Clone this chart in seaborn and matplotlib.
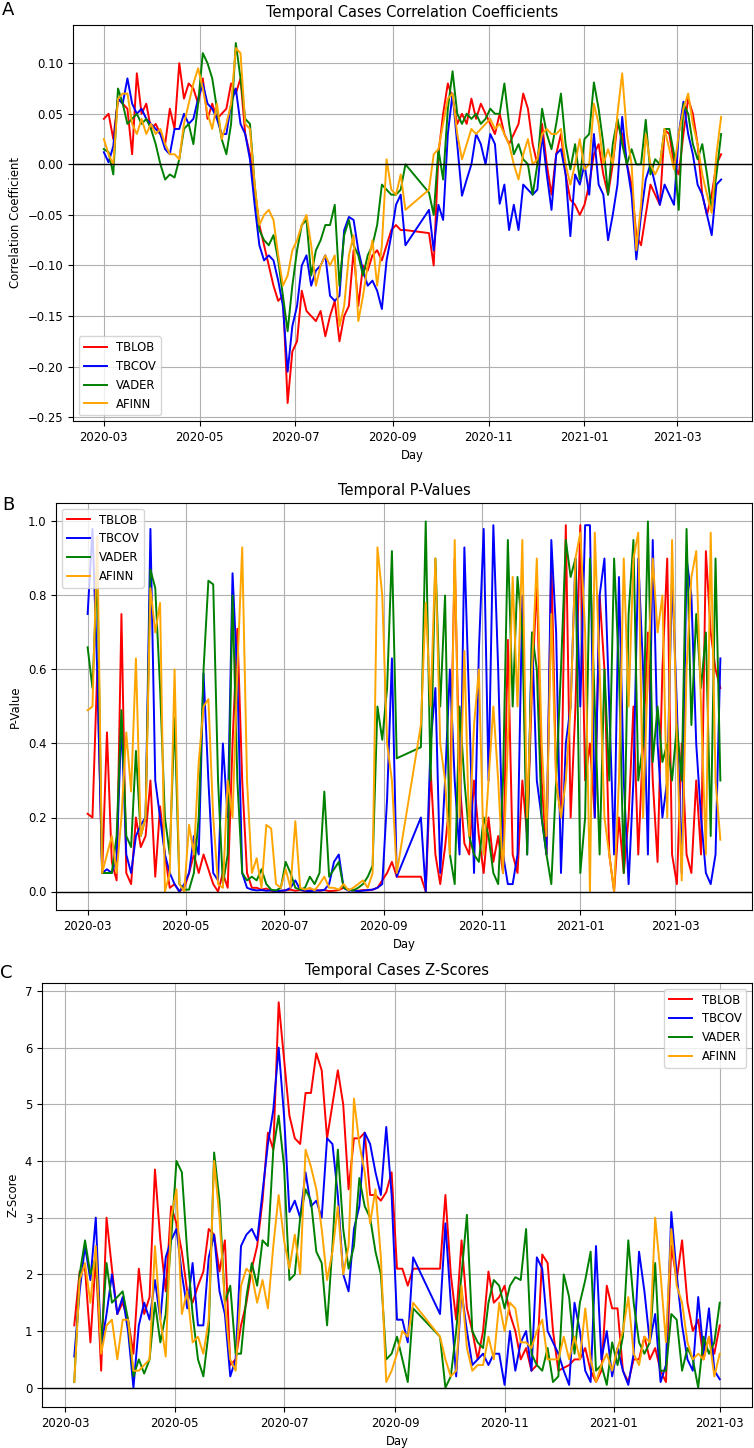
import pandas as pd
import seaborn as sns
import matplotlib.pyplot as plt
import matplotlib.dates as mdates

methods = ['TBLOB', 'TBCOV', 'VADER', 'AFINN']
line_colors = ['red', 'blue', 'green', 'orange']

# panels A and B: every 3rd day, 2020-03-01 .. 2021-03-29, no data 2020-09-12 .. 2020-09-21
days_ab = pd.date_range('2020-03-01', '2021-03-29', freq='3D')
days_ab = days_ab[(days_ab <= '2020-09-09') | (days_ab >= '2020-09-24')]
# panel C: every 3rd day, 2020-03-06 .. 2021-03-01, same hole in September
days_c = pd.date_range('2020-03-06', '2021-03-01', freq='3D')
days_c = days_c[(days_c <= '2020-09-11') | (days_c >= '2020-09-26')]

tblob_corr = [
    .045, .050, .025, .065, .060, .055, .010, .090, .050, .060, .035,
    .040, .030, .020, .055, .035, .100, .065, .080, .075, .060,
    .085, .045, .060, .045, .050, .055, .080, .070, .085, .030,
    .010, -.025, -.060, -.080, -.100, -.120, -.135, -.130, -.236, -.185,
    -.175, -.125, -.145, -.150, -.155, -.145, -.170, -.150, -.135, -.175,
    -.150, -.140, -.085, -.140, -.100, -.105, -.090, -.085, -.095, -.080, -.065,
    -.060, -.065, -.065, -.068, -.100, .010,
    .050, .080, .065, .040, .050, .040, .065, .045, .060, .050,
    .040, .030, .050, .030, .020, .030, .040, .070, .055, .020,
    .000, .040, .000, -.030, .010, .030, -.010, -.035, -.040, -.050,
    -.040, -.020, .010, .020, -.010, -.030, .000, .040, .030, .000, -.020,
    -.070, -.080, -.050, -.020, -.030, -.040, .034, .030, .000,
    -.010, .030, .065, .050, .020, -.030, -.050, -.030, .000, .010,
]
tbcov_corr = [
    .012, .002, .018, .065, .060, .085, .060, .050, .055, .045, .040,
    .035, .030, .015, .010, .035, .035, .050, .040, .045, .065,
    .080, .060, .055, .045, .030, .030, .060, .075, .040, .030,
    .005, -.040, -.080, -.095, -.090, -.095, -.115, -.140, -.205, -.160,
    -.140, -.100, -.090, -.120, -.105, -.100, -.090, -.130, -.135, -.130,
    -.065, -.052, -.055, -.085, -.105, -.120, -.115, -.125, -.143, -.095, -.070,
    -.040, -.030, -.080, -.045, -.085, -.040,
    -.055, .030, .070, .020, -.031, -.015, .000, .030, .020, .000,
    .030, .020, -.039, -.020, -.065, -.040, -.065, -.020, -.025, -.030,
    -.025, .030, -.010, -.045, .010, .015, -.010, -.071, -.010, -.020,
    .000, -.030, .030, -.020, -.030, -.075, -.050, -.020, .047, .000, -.030,
    -.094, -.050, -.015, .000, -.020, -.040, -.020, -.030, -.040,
    .030, .062, .030, .010, -.020, -.030, -.050, -.070, -.020, -.015,
]
vader_corr = [
    .015, .012, -.010, .075, .060, .040, .045, .050, .040, .045, .035,
    .020, .000, -.015, -.010, -.013, .005, .035, .040, .020, .060,
    .110, .100, .085, .055, .025, .010, .040, .120, .085, .045,
    .040, -.020, -.065, -.075, -.080, -.070, -.095, -.130, -.165, -.120,
    -.085, -.060, -.055, -.110, -.085, -.075, -.060, -.060, -.040, -.120,
    -.070, -.055, -.080, -.090, -.110, -.090, -.080, -.060, -.020, -.025, -.030,
    -.030, -.025, .000, -.028, -.050, .015,
    -.015, .055, .092, .050, .040, .050, .045, .050, .040, .045,
    .055, .050, .050, .080, .040, .010, .020, .005, .000, -.030,
    .000, .055, .030, .015, .040, .070, .020, -.005, .020, -.015,
    .025, .030, .081, .055, .020, -.030, .020, .045, .020, .000, .015,
    .000, .000, .044, -.010, .005, .000, .035, .035, .010,
    -.045, .060, .050, .020, .005, .020, -.010, -.045, -.010, .030,
]
afinn_corr = [
    .025, .010, .000, .065, .070, .070, .040, .030, .045, .030, .040,
    .030, .035, .020, .010, .010, .005, .040, .060, .080, .095,
    .075, .050, .035, .060, .025, .040, .060, .115, .110, .040,
    .035, -.020, -.060, -.050, -.045, -.055, -.090, -.120, -.110, -.085,
    -.075, -.060, -.050, -.080, -.120, -.100, -.090, -.100, -.090, -.160,
    -.140, -.090, -.070, -.155, -.130, -.100, -.075, -.120, -.080, .005, -.025,
    -.030, -.010, -.045, -.025, .010, .015,
    .040, .065, .070, .030, .005, .020, .035, .030, .035, .040,
    .045, .035, .040, .030, .020, .000, -.015, .010, .025, .000,
    .005, .030, .035, .030, .030, .035, .000, -.020, .000, .025,
    -.005, .000, .060, .040, .000, .015, .000, .050, .090, .030, .000,
    -.085, -.040, .030, .000, -.010, .000, .035, .015, -.005,
    .030, .055, .070, .040, .020, -.010, -.030, -.048, .010, .047,
]

tblob_p = [
    .21, .20, .60, .05, .43, .08, .03, .75, .05, .02, .20,
    .12, .15, .30, .04, .23, .10, .01, .02, .00, .01,
    .05, .10, .05, .10, .06, .02, .00, .05, .01, .40,
    .71, .30, .05, .01, .01, .005, .008, .002, .00, .002,
    .003, .005, .002, .004, .001, .003, .005, .002, .004, .001,
    .002, .004, .01, .005, .003, .002, .004, .003, .005, .010, .03,
    .05, .08, .04, .04, .00, .33,
    .10, .02, .12, .25, .90, .30, .13, .10, .30, .15,
    .05, .20, .08, .15, .05, .68, .10, .05, .30, .15,
    .55, .84, .30, .10, .90, .30, .20, .99, .20, .50,
    .99, .30, .40, .20, .80, .60, .10, .00, .20, .05, .20,
    .50, .10, .40, .70, .30, .08, .60, .90, .10,
    .02, .40, .10, .05, .30, .10, .92, .70, .60, .55,
]
tbcov_p = [
    .75, .98, .59, .05, .06, .05, .09, .46, .10, .05, .15,
    .18, .20, .98, .30, .20, .10, .05, .02, .00, .02,
    .05, .15, .10, .59, .30, .05, .03, .40, .20, .86,
    .58, .05, .01, .005, .003, .004, .002, .003, .001, .002,
    .003, .01, .03, .005, .002, .001, .002, .003, .004, .02,
    .08, .10, .01, .002, .003, .001, .002, .004, .005, .01, .02,
    .25, .63, .04, .20, .00, .40,
    .55, .05, .30, .60, .30, .10, .93, .50, .05, .65,
    .98, .30, .99, .60, .10, .02, .02, .10, .80, .10,
    .70, .30, .20, .10, .95, .70, .05, .40, .50, .90,
    .50, .99, .99, .20, .80, .90, .50, .10, .85, .30, .02,
    .30, .90, .60, .10, .95, .40, .20, .30, .85,
    .50, .05, .90, .80, .40, .20, .05, .02, .10, .63,
]
vader_p = [
    .66, .55, .87, .05, .05, .05, .15, .49, .15, .12, .38,
    .15, .20, .87, .82, .55, .20, .10, .47, .02, .005,
    .005, .05, .20, .60, .84, .83, .30, .02, .10, .80,
    .30, .05, .03, .04, .03, .06, .02, .005, .003, .01,
    .08, .05, .01, .005, .01, .04, .02, .05, .27, .04,
    .06, .08, .01, .005, .003, .01, .02, .04, .07, .50, .41,
    .55, .92, .36, .39, 1.00, .30,
    .90, .50, .80, .10, .02, .50, .30, .15, .10, .08,
    .20, .15, .05, .02, .30, .95, .50, .85, .70, .10,
    .70, .60, .20, .10, .02, .30, .60, .95, .85, .90,
    .05, .20, .90, .50, .10, .60, .30, .90, .60, .05, .75,
    .95, .30, .40, 1.00, .35, .50, .35, .40, .30,
    .45, .30, .98, .45, .75, .55, .70, .15, .90, .30,
]
afinn_p = [
    .49, .50, .96, .05, .10, .15, .05, .20, .43, .27, .63,
    .15, .20, .82, .70, .78, .00, .05, .60, .02, .00,
    .18, .10, .35, .50, .52, .20, .02, .01, .30, .20,
    .60, .93, .30, .05, .09, .01, .18, .17, .02, .01,
    .06, .01, .19, .01, .005, .01, .003, .02, .04, .01,
    .01, .005, .02, .003, .01, .02, .03, .01, .05, .93, .80,
    .40, .30, .05, .45, .78, .50,
    .90, .40, .30, .10, .95, .20, .65, .15, .45, .60,
    .10, .30, .50, .30, .05, .40, .85, .50, .95, .20,
    .60, .90, .40, .15, .75, .30, .20, .30, .50, .90,
    .97, .70, .00, .97, .60, .20, .10, .00, .30, .90, .50,
    .90, .97, .20, .60, .90, .70, .80, .20, .95,
    .40, .03, .60, .85, .92, .50, .10, .97, .30, .14,
]

tblob_z = [
    1.10, 2.05, 2.10, 0.80, 2.30, 0.30, 3.00, 2.10, 1.30, 1.50,
    1.20, 0.60, 2.10, 1.30, 1.60, 3.85, 2.60, 1.70, 3.20, 2.90,
    2.40, 1.70, 1.50, 1.80, 2.05, 2.80, 2.70, 2.05, 2.60, 0.40,
    0.50, 1.10, 1.50, 2.10, 2.50, 3.30, 4.50, 4.20, 6.80, 5.80,
    4.80, 4.40, 4.30, 5.20, 5.20, 5.90, 5.60, 4.40, 5.00, 5.60,
    5.00, 3.50, 4.40, 4.40, 4.50, 3.40, 3.40, 3.30, 3.45, 3.80,
    2.10, 2.10, 1.80, 2.10, 2.10, 3.40, 2.00, 1.20, 2.60, 1.40,
    1.00, 0.50, 1.00, 2.05, 1.50, 1.60, 1.80, 1.30, 1.00, 0.50,
    0.70, 0.30, 0.40, 2.35, 2.20, 1.00, 0.30, 0.35, 0.40, 0.50,
    0.50, 0.70, 0.30, 0.10, 0.30, 1.80, 1.40, 1.40, 0.30, 0.10,
    0.50, 0.50, 0.90, 0.50, 0.70, 0.30, 0.10, 2.50, 1.90, 2.60,
    1.50, 1.00, 1.20, 0.50, 0.90, 0.60, 1.10,
]
tbcov_z = [
    0.55, 1.70, 2.50, 1.90, 3.00, 0.70, 1.30, 2.00, 1.30, 1.60,
    1.00, 0.00, 1.10, 1.50, 1.20, 1.90, 1.20, 2.30, 2.60, 2.80,
    2.00, 1.40, 2.20, 1.10, 1.10, 2.30, 2.70, 1.70, 1.30, 0.20,
    0.50, 2.50, 2.70, 2.80, 2.60, 3.45, 4.30, 4.90, 6.00, 4.80,
    3.10, 3.30, 3.00, 3.80, 3.20, 3.30, 3.00, 4.40, 4.30, 3.40,
    2.00, 1.70, 2.80, 3.20, 4.50, 4.30, 3.80, 3.40, 4.60, 3.40,
    1.20, 1.20, 0.80, 2.30, 1.30, 2.90, 1.50, 0.20, 1.70, 1.00,
    0.40, 0.50, 0.60, 0.40, 0.60, 0.60, 0.05, 1.00, 0.30, 0.80,
    1.00, 0.30, 2.30, 2.10, 1.00, 0.80, 0.60, 0.30, 0.05, 1.50,
    1.00, 0.30, 0.10, 2.50, 0.50, 1.00, 0.20, 0.70, 0.30, 0.05,
    0.60, 2.40, 1.70, 0.80, 1.30, 0.10, 0.40, 3.10, 2.00, 1.10,
    0.50, 0.30, 1.60, 0.60, 1.40, 0.30, 0.15,
]
vader_z = [
    0.10, 2.00, 2.60, 2.00, 2.30, 0.80, 2.20, 1.50, 1.60, 1.70,
    1.20, 0.20, 0.50, 0.25, 0.50, 1.50, 0.80, 1.30, 2.60, 4.00,
    3.80, 2.40, 1.30, 0.50, 0.20, 1.00, 4.15, 3.30, 1.50, 1.80,
    0.60, 0.60, 1.60, 2.20, 1.80, 2.60, 2.50, 4.20, 4.80, 3.90,
    1.90, 2.00, 3.00, 3.50, 3.30, 2.40, 2.20, 1.10, 2.50, 4.20,
    2.80, 2.10, 2.50, 3.70, 3.20, 3.00, 2.40, 2.00, 0.50, 0.60,
    0.90, 0.50, 0.10, 1.40, 0.90, 0.00, 0.20, 1.00, 2.00, 3.05,
    1.00, 0.80, 0.70, 1.50, 1.90, 1.80, 1.40, 1.80, 1.95, 1.90,
    2.80, 0.60, 0.40, 0.30, 0.70, 0.10, 0.20, 2.00, 1.60, 0.60,
    1.50, 1.90, 2.40, 0.30, 0.40, 0.05, 0.80, 0.40, 0.90, 2.60,
    1.50, 0.80, 0.60, 0.80, 2.20, 0.30, 0.30, 1.30, 1.20, 0.30,
    0.70, 0.50, 0.00, 0.90, 0.60, 0.80, 1.50,
]
afinn_z = [
    0.10, 1.90, 2.20, 1.50, 2.50, 0.60, 1.10, 1.20, 0.50, 1.20,
    1.20, 0.30, 0.30, 0.40, 0.50, 2.50, 1.20, 0.55, 3.00, 3.50,
    1.30, 1.70, 0.80, 0.90, 0.60, 1.20, 4.00, 3.00, 1.50, 0.50,
    0.30, 1.80, 2.10, 2.00, 1.50, 1.90, 1.40, 2.50, 3.40, 2.60,
    2.10, 2.70, 2.00, 4.20, 3.90, 3.50, 2.80, 1.90, 2.40, 3.20,
    2.00, 2.50, 5.10, 4.30, 3.80, 2.90, 3.50, 2.30, 0.10, 0.30,
    0.60, 1.00, 0.90, 1.50, 0.90, 0.50, 0.20, 0.30, 1.80, 0.70,
    0.30, 0.40, 0.40, 0.90, 0.50, 1.50, 1.00, 1.50, 1.40, 0.80,
    0.80, 0.70, 1.00, 1.20, 0.50, 0.50, 0.50, 0.90, 0.50, 0.90,
    0.50, 1.40, 0.50, 0.10, 0.40, 0.60, 0.30, 0.70, 1.00, 1.60,
    0.60, 0.40, 0.90, 0.80, 3.00, 2.00, 0.80, 2.80, 1.80, 1.50,
    0.80, 0.50, 0.60, 0.50, 0.90, 0.20, 0.60,
]


def draw_panel(ax, days, series, title, ylabel, legend_loc):
    for name, col, vals in zip(methods, line_colors, series):
        sns.lineplot(x=days, y=vals, color=col, label=name, linewidth=1.4, ax=ax)
    ax.axhline(0, color='black', linewidth=1.0)
    ax.grid(True)
    ax.xaxis.set_major_locator(mdates.MonthLocator(bymonth=[1, 3, 5, 7, 9, 11]))
    ax.xaxis.set_major_formatter(mdates.DateFormatter('%Y-%m'))
    ax.set_xlabel('Day')
    ax.set_ylabel(ylabel)
    ax.set_title(title)
    ax.legend(loc=legend_loc)


if __name__ == '__main__':
    plt.rcParams.update({
        'font.size': 8.4,
        'axes.titlesize': 10.5,
        'axes.labelsize': 8.4,
        'xtick.labelsize': 8.4,
        'ytick.labelsize': 8.4,
        'legend.fontsize': 8.4,
    })

    fig = plt.figure(figsize=(7.54, 14.48), dpi=100)
    ax_a = fig.add_axes([73 / 754, 1 - 421 / 1448, 679 / 754, 396 / 1448])
    ax_b = fig.add_axes([56 / 754, 1 - 910 / 1448, 696 / 754, 407 / 1448])
    ax_c = fig.add_axes([42 / 754, 1 - 1407 / 1448, 710 / 754, 424 / 1448])

    draw_panel(ax_a, days_ab, [tblob_corr, tbcov_corr, vader_corr, afinn_corr],
               'Temporal Cases Correlation Coefficients', 'Correlation Coefficient', 'lower left')
    draw_panel(ax_b, days_ab, [tblob_p, tbcov_p, vader_p, afinn_p],
               'Temporal P-Values', 'P-Value', 'upper left')
    draw_panel(ax_c, days_c, [tblob_z, tbcov_z, vader_z, afinn_z],
               'Temporal Cases Z-Scores', 'Z-Score', 'upper right')

    fig.text(2 / 754, 1 - 15 / 1448, 'A', fontsize=13)
    fig.text(2 / 754, 1 - 510 / 1448, 'B', fontsize=13)
    fig.text(0 / 754, 1 - 978 / 1448, 'C', fontsize=13)

    fig.savefig('out.png', dpi=100)
